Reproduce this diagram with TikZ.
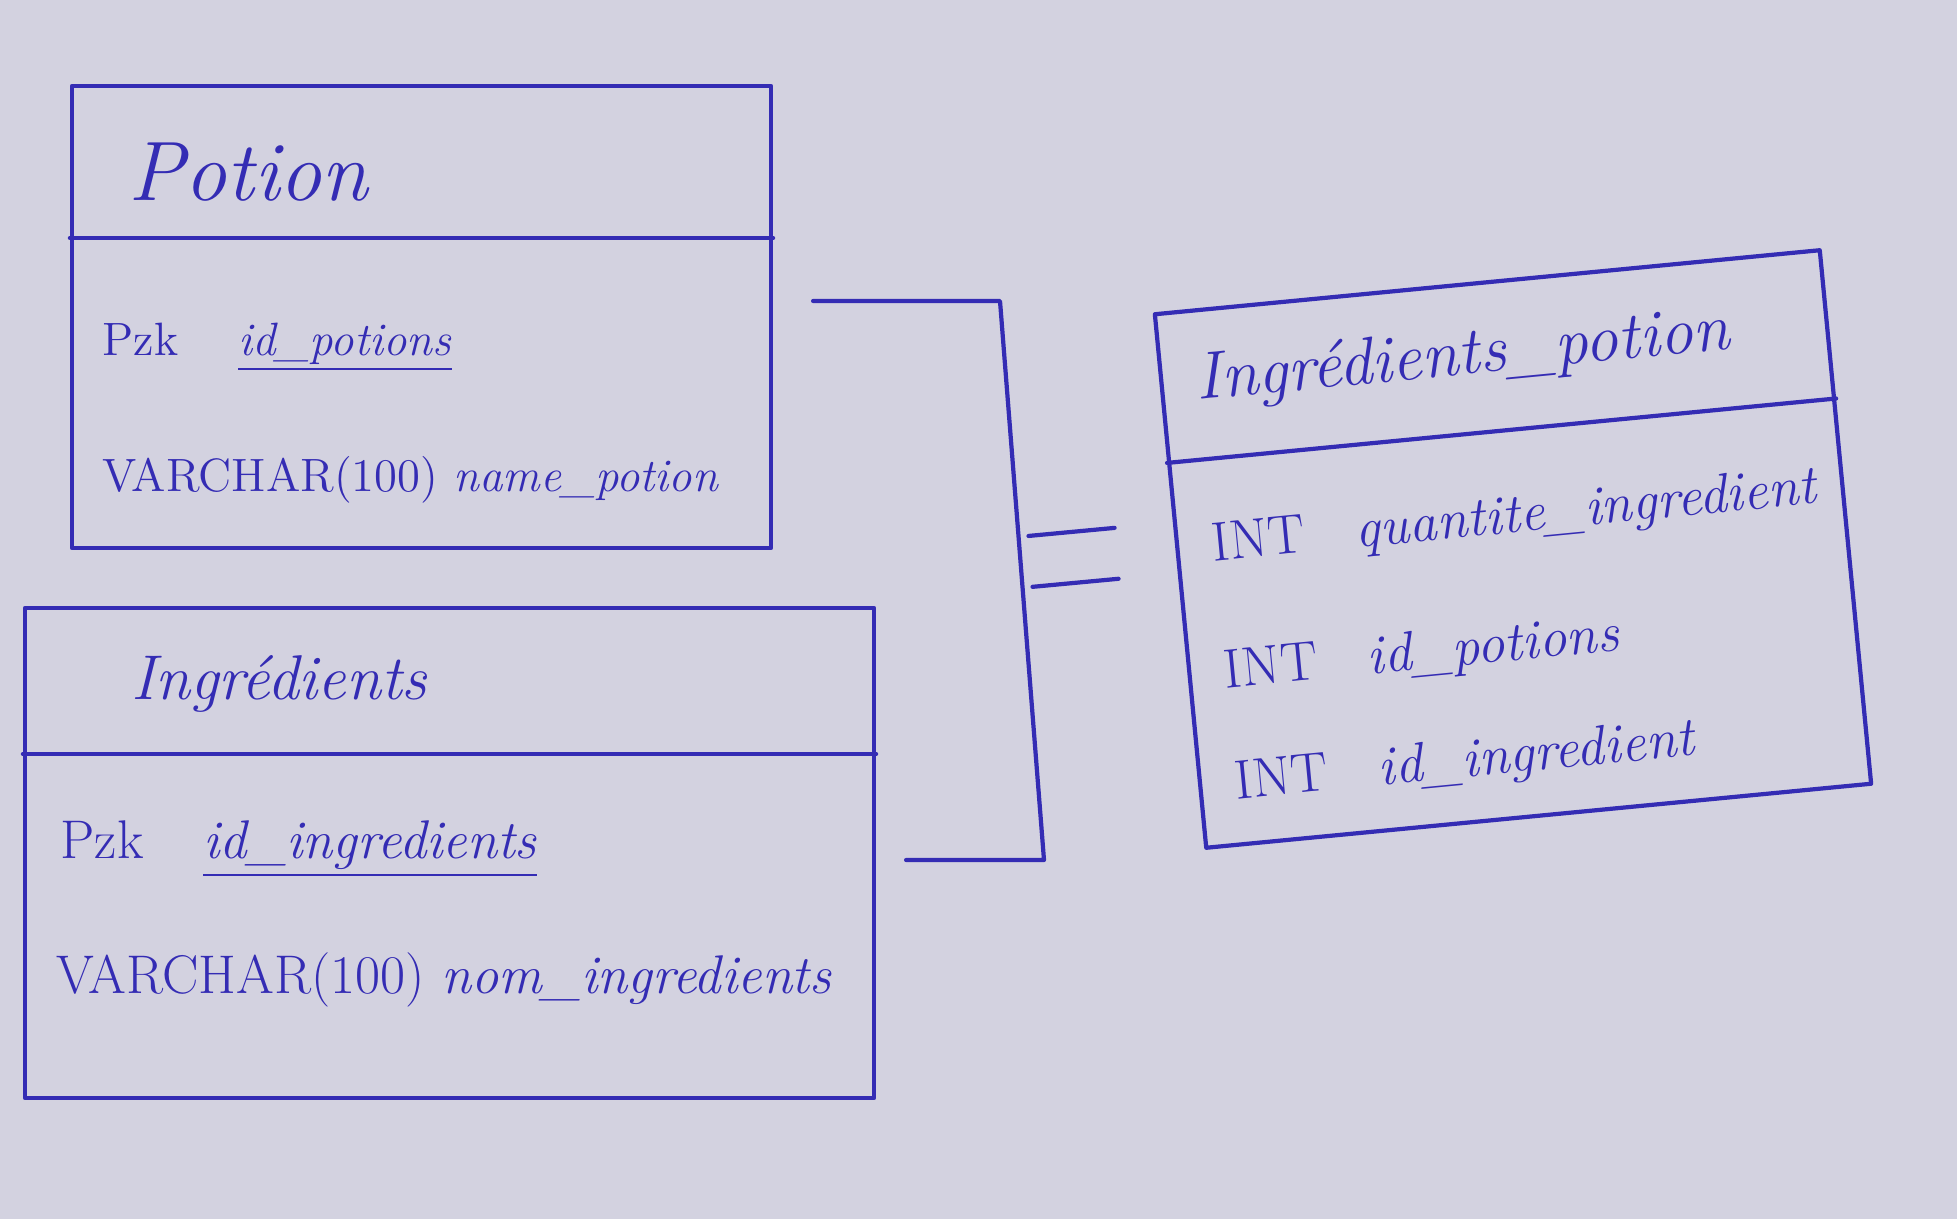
\documentclass[tikz,border=0pt]{standalone}
\usepackage{tikz}
\usetikzlibrary{calc}
\definecolor{paper}{RGB}{211,210,224}
\definecolor{ink}{RGB}{52,44,180}
\newcommand{\pkey}[1]{\underline{\textit{#1}}}
\newcommand{\attname}[1]{\textit{#1}}
\tikzset{
  pen/.style={draw=ink,line width=1.2pt,line cap=round,line join=round},
  entity/.style={pen,rectangle,inner sep=0pt},
  title/.style={text=ink,font=\itshape\fontsize{#1}{#1}\selectfont,anchor=west,inner sep=0pt},
  title/.default=19,
  attr/.style={text=ink,font=\fontsize{#1}{#1}\selectfont,anchor=west,inner sep=0pt},
  attr/.default=15.5,
  link/.style={pen},
}

\begin{document}
\begin{tikzpicture}[x=1mm,y=-1mm]
  \useasboundingbox (0,0) rectangle (195.7,121.9);
  \fill[paper] (0,0) rectangle (195.7,121.9);

  % Potion
  \node[entity,minimum width=69.9mm,minimum height=46.2mm] (potion) at (42.15,31.7) {};
  \draw[pen] (potion.west |- 0,23.8) -- (potion.east |- 0,23.8);
  \node[title=24] (potion-t) at (12.8,17.2) {Potion};
  \node[attr=13.3] (potion-a1) at (10.2,34.7) {Pzk\hspace{6mm}\pkey{id\_potions}};
  \node[attr=13.3] (potion-a2) at (10.2,48.0) {VARCHAR(100) \attname{name\_potion}};

  % Ingredients
  \node[entity,minimum width=84.9mm,minimum height=49mm] (ingr) at (44.95,85.3) {};
  \draw[pen] (ingr.west |- 0,75.4) -- (ingr.east |- 0,75.4);
  \node[title=18] (ingr-t) at (13.1,68.4) {Ingrédients};
  \node[attr] (ingr-a1) at (6.0,84.9) {Pzk\hspace{6mm}\pkey{id\_ingredients}};
  \node[attr] (ingr-a2) at (5.6,98.0) {VARCHAR(100) \attname{nom\_ingredients}};

  % Ingredients_potion
  \begin{scope}[shift={(151.3,54.9)},rotate=5.5,transform shape]
    \node[entity,minimum width=66.8mm,minimum height=53.6mm] (join) at (0,0) {};
    \draw[pen] ($(join.north west)!0.28!(join.south west)$) -- ($(join.north east)!0.28!(join.south east)$);
    \node[title] (join-t) at (-30,-19.5) {Ingrédients\_potion};
    \foreach \y/\n [count=\i] in {-3/quantite\_ingredient,9.7/id\_potions,20.9/id\_ingredient}
      \node[attr=15.8] (join-a\i) at (-30,\y) {INT\hspace{5mm}\attname{\n}};
  \end{scope}

  % links
  \coordinate (jtop) at (100.0,30.1);
  \coordinate (jbot) at (104.4,86.0);
  \draw[link,shorten <=4mm,shorten >=3mm] (potion.east |- jtop) -- (jtop) -- (jbot) -- (ingr.east |- jbot);
  \foreach \t in {0.422,0.513}
    \draw[link,shorten <=1mm] ($(jtop)!\t!(jbot)$) -- ++(9.6,-0.9);
\end{tikzpicture}
\end{document}
